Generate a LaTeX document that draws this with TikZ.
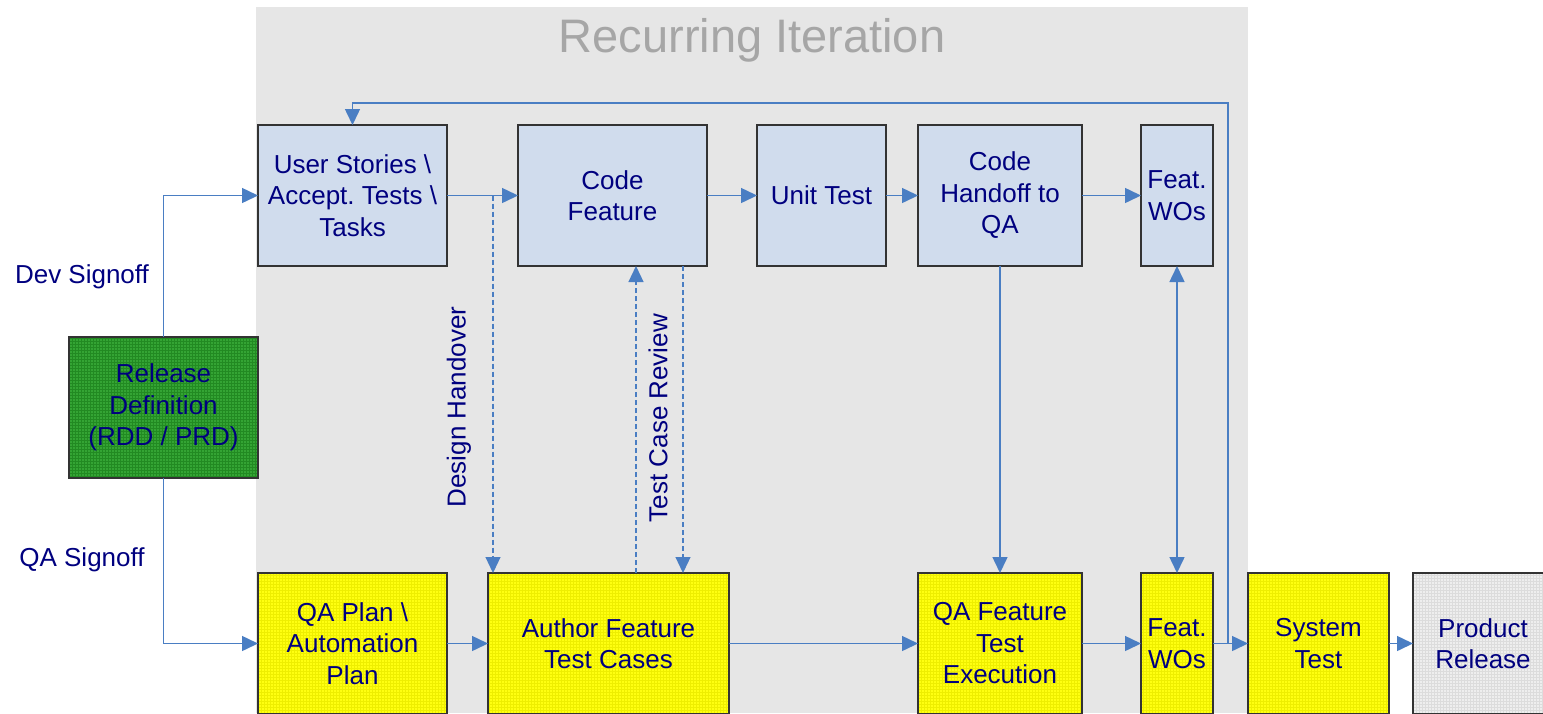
\documentclass[tikz,border=0pt]{standalone}
\usepackage{fontspec}
\setmainfont{Liberation Sans}
\frenchspacing
\usetikzlibrary{arrows.meta,patterns,calc}
\definecolor{bggray}{HTML}{E6E6E6}
\definecolor{titlegray}{HTML}{A6A6A6}
\definecolor{lineblue}{HTML}{4A7EC3}
\definecolor{navytext}{HTML}{00007F}
\definecolor{boxblue}{HTML}{D0DCED}
\definecolor{boxyellow}{HTML}{FFFF10}
\definecolor{gridyellow}{HTML}{EEEE00}
\definecolor{boxgreen}{HTML}{34A434}
\definecolor{gridgreen}{HTML}{228A22}
\definecolor{boxlgray}{HTML}{EEEEEE}
\definecolor{gridlgray}{HTML}{DCDCDC}
\tikzset{
  x=1pt, y=-1pt,
  basebox/.style={draw=black!80, line width=1.2pt, align=center, text=navytext,
    font=\fontsize{26pt}{31.5pt}\selectfont, inner sep=0pt, outer sep=0pt},
  bluebox/.style={basebox, fill=boxblue},
  yellowbox/.style={basebox, preaction={fill=boxyellow}, pattern=grid, pattern color=gridyellow},
  greenbox/.style={basebox, preaction={fill=boxgreen}, pattern=grid, pattern color=gridgreen},
  graybox/.style={basebox, preaction={fill=boxlgray}, pattern=grid, pattern color=gridlgray},
  tip/.tip={Triangle[length=16pt,width=15pt]},
  conn/.style={draw=lineblue, line width=1.5pt, -tip},
  plainline/.style={draw=lineblue, line width=1.5pt},
  dconn/.style={draw=lineblue, line width=1.2pt, dash pattern=on 5pt off 3pt, -tip},
  lbl/.style={text=navytext, font=\fontsize{26pt}{31.5pt}\selectfont, inner sep=0pt},
}
\begin{document}
\begin{tikzpicture}
\useasboundingbox (0,0) rectangle (1543,713);
\fill[bggray] (256,7) rectangle (1248,713);
\node[text=titlegray, font=\fontsize{47pt}{50pt}\selectfont, inner sep=0pt] (title) at (752,40) {Recurring Iteration};

% top row
\node[bluebox, minimum width=189pt, minimum height=141pt] (us) at (352.5,195.5) {User Stories \textbackslash\\Accept. Tests \textbackslash\\Tasks};
\node[bluebox, minimum width=189pt, minimum height=141pt] (cf) at (612.5,195.5) {Code\\Feature};
\node[bluebox, minimum width=129pt, minimum height=141pt] (ut) at (821.5,195.5) {Unit Test};
\node[bluebox, minimum width=164pt, minimum height=141pt] (ch) at (1000,195.5) {Code\\Handoff to\\QA};
\node[bluebox, minimum width=72pt, minimum height=141pt] (fwt) at (1177,195.5) {Feat.\\WOs};

% release definition
\node[greenbox, minimum width=189pt, minimum height=141pt] (rd) at (163.5,407.5) {Release\\Definition\\(RDD / PRD)};

% bottom row
\node[yellowbox, minimum width=189pt, minimum height=141pt] (qp) at (352.5,643.5) {QA Plan \textbackslash\\Automation\\Plan};
\node[yellowbox, minimum width=241pt, minimum height=141pt] (af) at (608.5,643.5) {Author Feature\\Test Cases};
\node[yellowbox, minimum width=164pt, minimum height=141pt] (qf) at (1000,643.5) {QA Feature\\Test\\Execution};
\node[yellowbox, minimum width=72pt, minimum height=141pt] (fwb) at (1177,643.5) {Feat.\\WOs};
\node[yellowbox, minimum width=141pt, minimum height=141pt] (st) at (1318.5,643.5) {System\\Test};
\node[graybox, minimum width=140pt, minimum height=141pt] (pr) at (1483,643.5) {Product\\Release};

% labels
\node[lbl] (dev) at (82,277) {Dev Signoff};
\node[lbl] (qas) at (82,560) {QA Signoff};
\node[lbl, rotate=90] (dhl) at (459,407) {Design Handover};
\node[lbl, rotate=90] (tcr) at (658,418) {Test Case Review};

% connectors top
\draw[conn] (rd.north) |- (us.west);
\draw[conn] (rd.south) |- (qp.west);
\draw[conn] (us.east) -- (cf.west);
\draw[conn] (cf.east) -- (ut.west);
\draw[conn] (ut.east) -- (ch.west);
\draw[conn] (ch.east) -- (fwt.west);
\draw[conn] (ch.south) -- (qf.north);
\draw[plainline, tip-tip] (fwt.south) -- (fwb.north);

% dashed
\coordinate (dh) at (493,195.5);
\draw[dconn] (dh) -- (dh |- af.north);
\coordinate (tc1) at (636,400);
\coordinate (tc2) at (683,400);
\draw[dconn] (tc1 |- af.north) -- (tc1 |- cf.south);
\draw[dconn] (tc2 |- cf.south) -- (tc2 |- af.north);

% bottom connectors
\draw[conn] (qp.east) -- (af.west);
\draw[conn] (af.east) -- (qf.west);
\draw[conn] (qf.east) -- (fwb.west);
\draw[conn] (fwb.east) -- (st.west);
\draw[conn] (st.east) -- (pr.west);

% loop back
\coordinate (j) at (1228,643.5);
\coordinate (ltr) at (1228,103);
\draw[conn] (j) -- (ltr) -| (us.north);
\end{tikzpicture}
\end{document}
